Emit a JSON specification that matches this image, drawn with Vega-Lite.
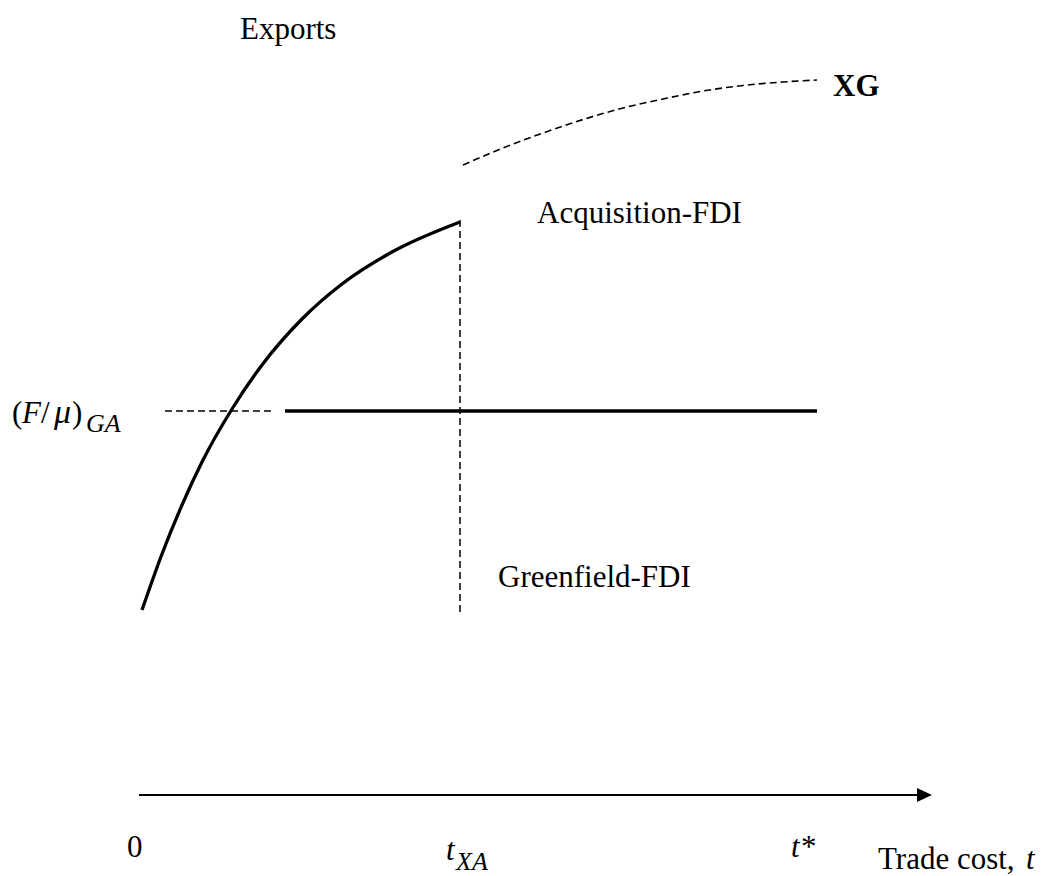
{
  "$schema": "https://vega.github.io/schema/vega-lite/v6.json",
  "width": 1043,
  "height": 876,
  "padding": 0,
  "autosize": {"type": "none"},
  "background": "white",
  "config": {
    "view": {"stroke": null},
    "text": {"font": "Liberation Serif", "fontSize": 31, "align": "left", "baseline": "alphabetic", "color": "black"}
  },
  "datasets": {
    "exports": [
      {"x": 0, "y": 186}, {"x": 20, "y": 242}, {"x": 40, "y": 291}, {"x": 60, "y": 334},
      {"x": 90, "y": 387}, {"x": 120, "y": 431}, {"x": 160, "y": 477}, {"x": 200, "y": 512},
      {"x": 250, "y": 544}, {"x": 318, "y": 574}
    ],
    "xg": [
      {"x": 321, "y": 631}, {"x": 361, "y": 648}, {"x": 401, "y": 663}, {"x": 441, "y": 676.5},
      {"x": 481, "y": 688}, {"x": 521, "y": 697}, {"x": 561, "y": 705}, {"x": 601, "y": 710.5},
      {"x": 641, "y": 714}, {"x": 675, "y": 716}
    ],
    "solidRules": [
      {"x": 143, "x2": 675, "y": 385, "y2": 385}
    ],
    "dashedRules": [
      {"x": 23, "x2": 131, "y": 385, "y2": 385},
      {"x": 318, "x2": 318, "y": 576, "y2": 181}
    ],
    "axisRule": [
      {"x": -3, "x2": 776, "y": 1, "y2": 1}
    ],
    "arrow": [
      {"x": 782.5, "y": 1}
    ],
    "regular": [
      {"label": "Exports", "x": 98, "y": 757},
      {"label": "Acquisition-FDI", "x": 395, "y": 573},
      {"label": "Greenfield-FDI", "x": 356, "y": 209},
      {"label": "0", "x": -15, "y": -61},
      {"label": "(", "x": -130, "y": 373},
      {"label": "/", "x": -101, "y": 373},
      {"label": ")", "x": -70, "y": 373},
      {"label": "*", "x": 659, "y": -61},
      {"label": "Trade cost,", "x": 736, "y": -73}
    ],
    "italic": [
      {"label": "F", "x": -120, "y": 373},
      {"label": "t", "x": 304, "y": -64},
      {"label": "t", "x": 649, "y": -61},
      {"label": "t", "x": 884, "y": -73}
    ],
    "mu": [
      {"label": "μ", "x": -88, "y": 373}
    ],
    "italicSub": [
      {"label": "GA", "x": -56, "y": 364},
      {"label": "XA", "x": 314, "y": -74}
    ],
    "bold": [
      {"label": "XG", "x": 691, "y": 700}
    ]
  },
  "encoding": {
    "x": {"field": "x", "type": "quantitative", "scale": {"domain": [-142, 901], "nice": false, "zero": false}, "axis": null},
    "y": {"field": "y", "type": "quantitative", "scale": {"domain": [-80, 796], "nice": false, "zero": false}, "axis": null}
  },
  "layer": [
    {
      "data": {"name": "exports"},
      "mark": {"type": "line", "color": "black", "strokeWidth": 3.3, "interpolate": "monotone"}
    },
    {
      "data": {"name": "xg"},
      "mark": {"type": "line", "color": "black", "strokeWidth": 1.6, "strokeDash": [7, 4], "interpolate": "monotone"}
    },
    {
      "data": {"name": "solidRules"},
      "mark": {"type": "rule", "color": "black", "strokeWidth": 3.5},
      "encoding": {"x2": {"field": "x2"}, "y2": {"field": "y2"}}
    },
    {
      "data": {"name": "dashedRules"},
      "mark": {"type": "rule", "color": "black", "strokeWidth": 1.5, "strokeDash": [7, 4]},
      "encoding": {"x2": {"field": "x2"}, "y2": {"field": "y2"}}
    },
    {
      "data": {"name": "axisRule"},
      "mark": {"type": "rule", "color": "black", "strokeWidth": 2.2},
      "encoding": {"x2": {"field": "x2"}, "y2": {"field": "y2"}}
    },
    {
      "data": {"name": "arrow"},
      "mark": {"type": "point", "shape": "M-1,-0.93L1,0L-1,0.93Z", "filled": true, "color": "black", "opacity": 1, "size": 225, "strokeWidth": 0}
    },
    {
      "data": {"name": "regular"},
      "mark": {"type": "text"},
      "encoding": {"text": {"field": "label"}}
    },
    {
      "data": {"name": "italic"},
      "mark": {"type": "text", "fontStyle": "italic"},
      "encoding": {"text": {"field": "label"}}
    },
    {
      "data": {"name": "mu"},
      "mark": {"type": "text", "fontStyle": "italic", "fontSize": 34},
      "encoding": {"text": {"field": "label"}}
    },
    {
      "data": {"name": "italicSub"},
      "mark": {"type": "text", "fontStyle": "italic", "fontSize": 26},
      "encoding": {"text": {"field": "label"}}
    },
    {
      "data": {"name": "bold"},
      "mark": {"type": "text", "fontWeight": "bold"},
      "encoding": {"text": {"field": "label"}}
    }
  ]
}
